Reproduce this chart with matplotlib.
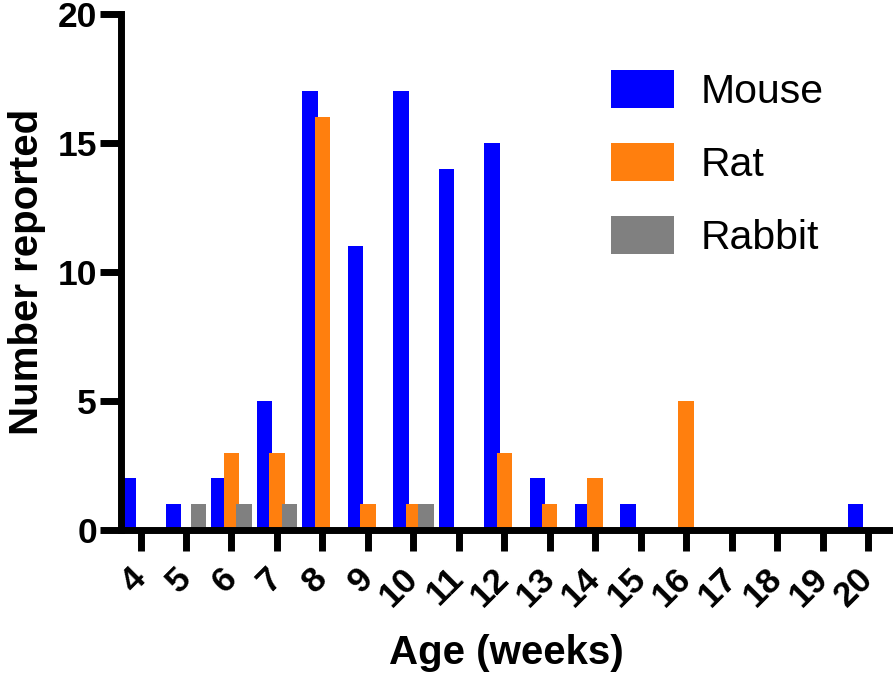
import matplotlib
matplotlib.use("Agg")
import matplotlib.pyplot as plt
import numpy as np

plt.rcParams['font.family'] = ['Liberation Sans', 'DejaVu Sans']

ages = [4, 5, 6, 7, 8, 9, 10, 11, 12, 13, 14, 15, 16, 17, 18, 19, 20]
mouse = [2, 1, 2, 5, 17, 11, 17, 14, 15, 2, 1, 1, 0, 0, 0, 0, 1]
rat = [0, 0, 3, 3, 16, 1, 1, 0, 3, 1, 2, 0, 5, 0, 0, 0, 0]
rabbit = [0, 1, 1, 1, 0, 0, 1, 0, 0, 0, 0, 0, 0, 0, 0, 0, 0]

series = [("Mouse", mouse, "#0000ff", -0.275),
          ("Rat", rat, "#ff7f0e", 0.0),
          ("Rabbit", rabbit, "#808080", 0.275)]

fig = plt.figure(figsize=(8.93, 6.77), dpi=100)
ax = fig.add_axes([0.135, 0.2171, 0.865, 0.7622])

x = np.array(ages)
for name, vals, col, off in series:
    ax.bar(x + off, vals, width=0.34, color=col, label=name, linewidth=0)

ax.set_xlim(3.56, 20.55)
ax.set_ylim(0, 20)
ax.set_yticks([0, 5, 10, 15, 20])
ax.set_xticks(ages)
ax.set_xticklabels([str(a) for a in ages], rotation=45, ha='right',
                   va='center', rotation_mode='anchor')

for s in ['top', 'right']:
    ax.spines[s].set_visible(False)
for s in ['left', 'bottom']:
    ax.spines[s].set_linewidth(5)

ax.tick_params(axis='both', length=15, width=5, labelsize=25.5)
ax.tick_params(axis='y', pad=2)
ax.tick_params(axis='x', pad=16)
for lab in ax.get_xticklabels() + ax.get_yticklabels():
    lab.set_fontweight('bold')

ax.set_xlabel("Age (weeks)", fontsize=29, fontweight='bold', labelpad=15)
ax.set_ylabel("Number reported", fontsize=29, fontweight='bold', labelpad=8)

ax.legend(loc='upper left', bbox_to_anchor=(611 / 893, 1 - 70 / 677),
          bbox_transform=fig.transFigure, frameon=False, fontsize=29.5,
          borderpad=0, borderaxespad=0, handlelength=1.54, handleheight=1.05,
          handletextpad=0.65, labelspacing=0.78)

fig.savefig("out.png", dpi=100)
